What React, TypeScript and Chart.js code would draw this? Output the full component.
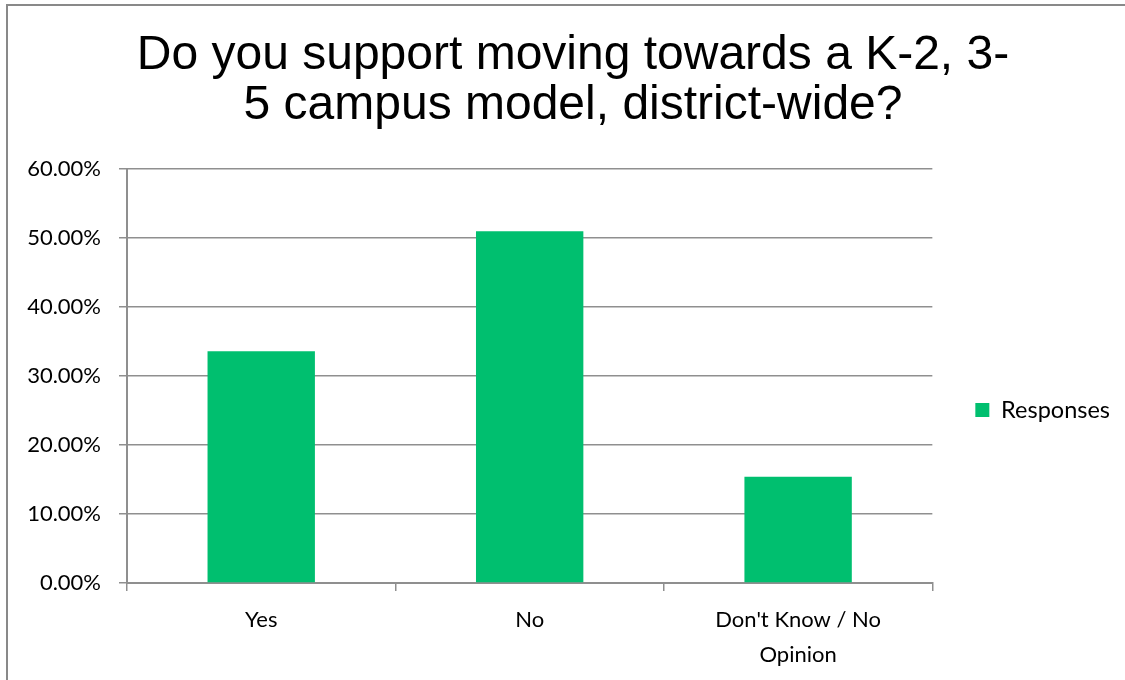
import React, { useEffect, useRef } from "react";
import { Chart, registerables } from "chart.js";

Chart.register(...registerables);

const TITLE_LINES = ["Do you support moving towards a K-2, 3-", "5 campus model, district-wide?"];
const CATEGORIES = [["Yes"], ["No"], ["Don't Know / No", "Opinion"]];
const SERIES_LABEL = "Responses";
const RESPONSES = [33.6, 51.0, 15.4];
const Y_MIN = 0;
const Y_MAX = 60;
const Y_STEP = 10;

const BAR_COLOR = "#00BF6F";
const GRID_COLOR = "#8f8f8f";
const W = 1144;
const H = 820;

const framePlugin = {
  id: "frame",
  beforeDraw(chart: any) {
    const ctx = chart.ctx;
    ctx.save();
    ctx.fillStyle = "#ffffff";
    ctx.fillRect(0, 0, chart.width, chart.height);
    ctx.strokeStyle = "#898989";
    ctx.lineWidth = 2;
    ctx.strokeRect(7, 5, chart.width + 40, chart.height + 40);
    ctx.restore();
  },
};

export default function App() {
  const ref = useRef<HTMLCanvasElement | null>(null);
  useEffect(() => {
    if (!ref.current) return;
    const chart = new Chart(ref.current, {
      type: "bar",
      data: {
        labels: CATEGORIES,
        datasets: [
          {
            label: SERIES_LABEL,
            data: RESPONSES,
            backgroundColor: BAR_COLOR,
            borderWidth: 0,
            categoryPercentage: 1,
            barPercentage: 0.4,
          },
        ],
      },
      options: {
        responsive: false,
        animation: false,
        devicePixelRatio: 1,
        layout: { padding: { left: 26, right: 24, top: 0, bottom: 0 } },
        plugins: {
          tooltip: { enabled: false },
          title: {
            display: true,
            text: TITLE_LINES,
            color: "#000000",
            font: { family: "'Liberation Sans', Arial, sans-serif", size: 48, weight: "normal", lineHeight: 1.042 },
            padding: { top: 31, bottom: 38 },
          },
          legend: {
            display: true,
            position: "right",
            labels: {
              boxWidth: 14,
              boxHeight: 14,
              padding: 43,
              color: "#000000",
              font: { family: "Lato, 'Open Sans', sans-serif", size: 23.5 },
            },
          },
        },
        scales: {
          x: {
            grid: {
              display: true,
              offset: true,
              drawOnChartArea: false,
              drawTicks: true,
              tickLength: 8,
              color: GRID_COLOR,
              lineWidth: 1.5,
            },
            border: { display: true, color: GRID_COLOR, width: 2 },
            ticks: {
              color: "#000000",
              padding: 11,
              maxRotation: 0,
              autoSkip: false,
              font: { family: "Lato, 'Open Sans', sans-serif", size: 22, lineHeight: 1.6 },
            },
            afterFit(scale: any) {
              scale.height = H - 583;
            },
          },
          y: {
            min: Y_MIN,
            max: Y_MAX,
            grid: {
              color: GRID_COLOR,
              lineWidth: 1.5,
              drawTicks: true,
              tickLength: 8,
            },
            border: { display: true, color: GRID_COLOR, width: 2 },
            ticks: {
              stepSize: Y_STEP,
              color: "#000000",
              padding: 18,
              font: { family: "Lato, 'Open Sans', sans-serif", size: 22 },
              callback: (v: any) => Number(v).toFixed(2) + "%",
            },
            afterFit(scale: any) {
              scale.width = 101;
            },
          },
        },
      },
      plugins: [framePlugin],
    });
    return () => chart.destroy();
  }, []);

  return (
    <div style={{ position: "absolute", left: 0, top: 0, width: 1125, height: 680, overflow: "hidden", background: "#fff" }}>
      <canvas ref={ref} width={W} height={H} style={{ width: W, height: H, display: "block" }} />
    </div>
  );
}
